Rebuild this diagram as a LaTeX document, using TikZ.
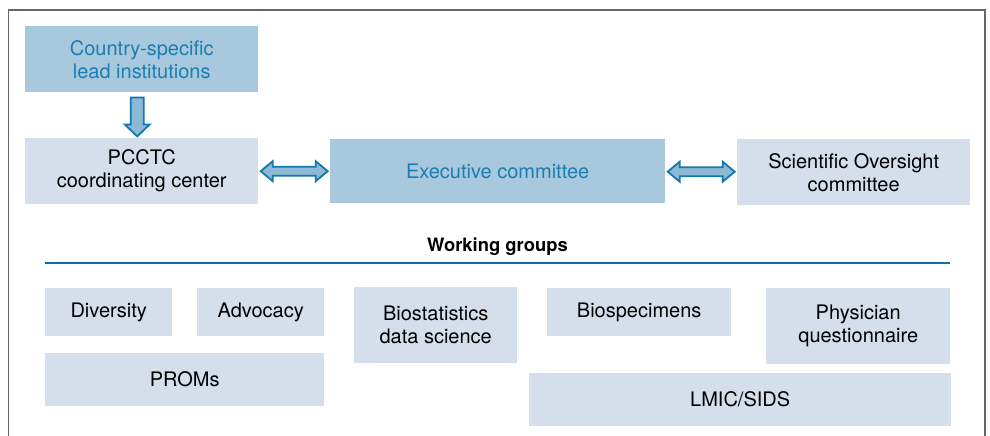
\documentclass[tikz,border=0pt]{standalone}
\usepackage{fontspec}
\setmainfont{TeX Gyre Heros}
\usetikzlibrary{calc}
\definecolor{darkbox}{HTML}{A8C9DD}
\definecolor{lightbox}{HTML}{D5DFEC}
\definecolor{bluetext}{HTML}{1B7DB0}
\definecolor{arrowline}{HTML}{1577AC}
\definecolor{arrowfill}{HTML}{8CB9D6}
\definecolor{ruleblue}{HTML}{1070A6}
\definecolor{framegray}{HTML}{666666}

\begin{document}
\begin{tikzpicture}[x=1pt,y=-1pt]
	\tikzstyle{every node}=[font=\fontsize{20}{23}\selectfont]
	\tikzstyle{grpbox}=[fill=lightbox, anchor=north west, inner sep=0pt, align=center]
	\tikzstyle{leadbox}=[grpbox, fill=darkbox, text=bluetext]
	\tikzstyle{blkarrow}=[draw=arrowline, fill=arrowfill, line width=1.8pt, line join=miter]
	\useasboundingbox (0,0) rectangle (990,436);
	
	% outer frame (open at the bottom)
	\draw[framegray, line width=1.5pt] (8.5,440) -- (8.5,10) -- (985,10) -- (985,440);
	
	% top part
	\node[leadbox, minimum width=233pt, minimum height=66pt] (country) at (25,26) {Country-specific\\lead institutions};
	\node[grpbox, minimum width=233pt, minimum height=66pt] (pcctc) at (25,138) {PCCTC\\coordinating center};
	\node[leadbox, minimum width=335pt, minimum height=64pt] (exec) at (330,139) {Executive committee};
	\node[grpbox, minimum width=233pt, minimum height=66pt] (sci) at (737,139) {Scientific Oversight\\committee};
	
	% block arrows
	\begin{scope}[shift={($(country.south)+(-4.5,0)$)}]
		\draw[blkarrow] (-6.5,5) -- (6.5,5) -- (6.5,32) -- (12.5,32) -- (0,44) -- (-12.5,32) -- (-6.5,32) -- cycle;
	\end{scope}
	\foreach \a/\b in {pcctc/exec, exec/sci} {
		\begin{scope}[shift={($(\a.east)!0.5!(\b.west)$)}]
			\draw[blkarrow] (-33.5,0) -- (-21.5,-10) -- (-21.5,-4.5) -- (21.5,-4.5) -- (21.5,-10) -- (33.5,0)
				-- (21.5,10) -- (21.5,4.5) -- (-21.5,4.5) -- (-21.5,10) -- cycle;
		\end{scope}
	}
	
	% working groups
	\node[font=\fontsize{18.4}{21}\selectfont\bfseries] (wg) at (497.5,247) {Working groups};
	\draw[ruleblue, line width=2.5pt] (45,263) -- (950,263);
	\foreach \nm/\xx/\yy/\ww/\hh/\txt in {div/45/288/127/48/Diversity, adv/197/288/127/48/Advocacy,
		proms/45/353/279/53/PROMs, biostat/354/287/163/76/{Biostatistics\\data science},
		biospec/547/288/184/48/Biospecimens, phys/766/288/184/76/{Physician\\questionnaire},
		lmic/529/373/422/53/{LMIC/SIDS}} {
		\node[grpbox, minimum width=\ww pt, minimum height=\hh pt] (\nm) at (\xx,\yy) {\txt};
	}
\end{tikzpicture}
\end{document}
